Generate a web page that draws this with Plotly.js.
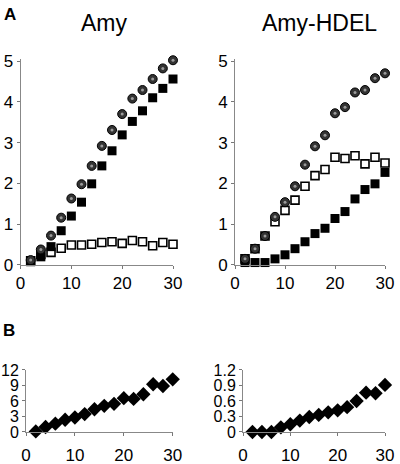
<!DOCTYPE html>
<html><head><meta charset="utf-8">
<script src="https://cdn.plot.ly/plotly-3.0.1.min.js"></script>
<style>html,body{margin:0;padding:0;background:#fff}#c{width:400px;height:464px}</style>
</head><body><div id="c"></div>
<script>
const timePts = [2,4,6,8,10,12,14,16,18,20,22,24,26,28,30];

// Panel A, Amy
const amyCircle = [0.12,0.38,0.72,1.16,1.63,1.98,2.43,2.92,3.31,3.70,4.08,4.29,4.56,4.82,5.02];
const amyFilled = [0.08,0.2,0.45,0.84,1.2,1.54,1.99,2.43,2.8,3.19,3.52,3.78,4.1,4.33,4.56];
const amyOpen   = [0.1,0.26,0.31,0.41,0.49,0.49,0.51,0.55,0.57,0.53,0.6,0.57,0.47,0.55,0.51];

// Panel A, Amy-HDEL
const hdelCircle = [0.15,0.4,0.71,1.18,1.54,1.93,2.46,2.91,3.18,3.72,3.87,4.23,4.29,4.58,4.70];
const hdelFilled = [0.06,0.06,0.06,0.15,0.25,0.4,0.57,0.77,0.9,1.14,1.31,1.62,1.85,1.99,2.27];
const hdelOpen   = [0.15,0.4,0.71,1.06,1.34,1.59,1.93,2.19,2.34,2.64,2.61,2.68,2.48,2.64,2.5];

// Panel B
const amyRatio  = [0.1,0.96,1.6,2.37,2.8,3.47,4.4,5.07,5.45,6.55,6.4,7.3,9.24,8.9,10.2];
const hdelRatio = [0,0,0,0.09,0.15,0.22,0.29,0.33,0.38,0.42,0.48,0.6,0.76,0.75,0.91];

const xTicks = [0,10,20,30];
const yTicksA = [0,1,2,3,4,5];
const yTicksB1 = [0,3,6,9,12];
const yTicksB2 = [0,0.3,0.6,0.9,1.2];
const yTickTextB2 = ['0','0.3','0.6','0.9','1.2'];

function openSq(x,y,xa,ya){return {x:x,y:y,xaxis:xa,yaxis:ya,type:'scatter',mode:'markers',cliponaxis:false,
  marker:{symbol:'square',size:8,color:'#fff',line:{color:'#000',width:1.6}}};}
function fillSq(x,y,xa,ya){return {x:x,y:y,xaxis:xa,yaxis:ya,type:'scatter',mode:'markers',cliponaxis:false,
  marker:{symbol:'square',size:9,color:'#000',line:{color:'#000',width:0}}};}
function circ(x,y,xa,ya){return {x:x,y:y,xaxis:xa,yaxis:ya,type:'scatter',mode:'markers',cliponaxis:false,
  marker:{symbol:'circle',size:9,color:'#333',line:{color:'#000',width:1}}};}
function dot(x,y,xa,ya){return {x:x,y:y,xaxis:xa,yaxis:ya,type:'scatter',mode:'markers',cliponaxis:false,
  marker:{symbol:'circle',size:3,color:'#9a9a9a',line:{width:0}}};}
function dia(x,y,xa,ya){return {x:x,y:y,xaxis:xa,yaxis:ya,type:'scatter',mode:'markers',cliponaxis:false,
  marker:{symbol:'diamond',size:11,color:'#000',line:{width:0}}};}

const data = [
  openSq(timePts,amyOpen,'x','y'), fillSq(timePts,amyFilled,'x','y'), circ(timePts,amyCircle,'x','y'), dot(timePts,amyCircle,'x','y'),
  openSq(timePts,hdelOpen,'x2','y2'), fillSq(timePts,hdelFilled,'x2','y2'), circ(timePts,hdelCircle,'x2','y2'), dot(timePts,hdelCircle,'x2','y2'),
  dia(timePts,amyRatio,'x3','y3'), dia(timePts,hdelRatio,'x4','y4')
];

const tickFont = {family:'Liberation Sans, Arial, sans-serif', size:17, color:'#000'};
function xax(dom,anchor,standoff){return {domain:dom,anchor:anchor,range:[0,30],tickvals:xTicks,ticks:'outside',ticklen:3,tickcolor:'#777',
  showline:true,linecolor:'#888',linewidth:1,showgrid:false,zeroline:false,tickfont:tickFont,fixedrange:true,ticklabelstandoff:standoff};}
function yax(dom,anchor,range,vals,text,fs){const o={domain:dom,anchor:anchor,range:range,tickvals:vals,ticks:'outside',ticklen:3,tickcolor:'#777',
  showline:true,linecolor:'#888',linewidth:1,showgrid:false,zeroline:false,tickfont:Object.assign({},tickFont,{size:fs}),fixedrange:true};
  if(text) o.ticktext=text; return o;}

const layout = {
  width:400,height:464,margin:{l:0,r:0,t:0,b:0},paper_bgcolor:'#fff',plot_bgcolor:'#fff',showlegend:false,
  font:{family:'Liberation Sans, Arial, sans-serif',color:'#000'},
  xaxis: xax([0.0513,0.4325],'y',0),
  yaxis: yax([0.4289,0.8728],'x',[0,5.05],yTicksA,null,17),
  xaxis2: xax([0.5875,0.9625],'y2',0),
  yaxis2: yax([0.4289,0.8728],'x2',[0,5.05],yTicksA,null,17),
  xaxis3: xax([0.065,0.4318],'y3',5),
  yaxis3: yax([0.069,0.2026],'x3',[0,12],yTicksB1,null,16),
  xaxis4: xax([0.6075,0.9625],'y4',5),
  yaxis4: yax([0.069,0.2026],'x4',[0,1.2],yTicksB2,yTickTextB2,16),
  annotations:[
    {text:'<b>A</b>',xref:'paper',yref:'paper',x:2/400,y:1-3/464,xanchor:'left',yanchor:'top',showarrow:false,font:{size:17}},
    {text:'<b>B</b>',xref:'paper',yref:'paper',x:1/400,y:1-319/464,xanchor:'left',yanchor:'top',showarrow:false,font:{size:17}},
    {text:'Amy',xref:'paper',yref:'paper',x:104/400,y:1-23/464,xanchor:'center',yanchor:'middle',showarrow:false,font:{size:23}},
    {text:'Amy-HDEL',xref:'paper',yref:'paper',x:319/400,y:1-23/464,xanchor:'center',yanchor:'middle',showarrow:false,font:{size:23}}
  ]
};
Plotly.newPlot('c',data,layout,{staticPlot:true,displayModeBar:false});
</script></body></html>
